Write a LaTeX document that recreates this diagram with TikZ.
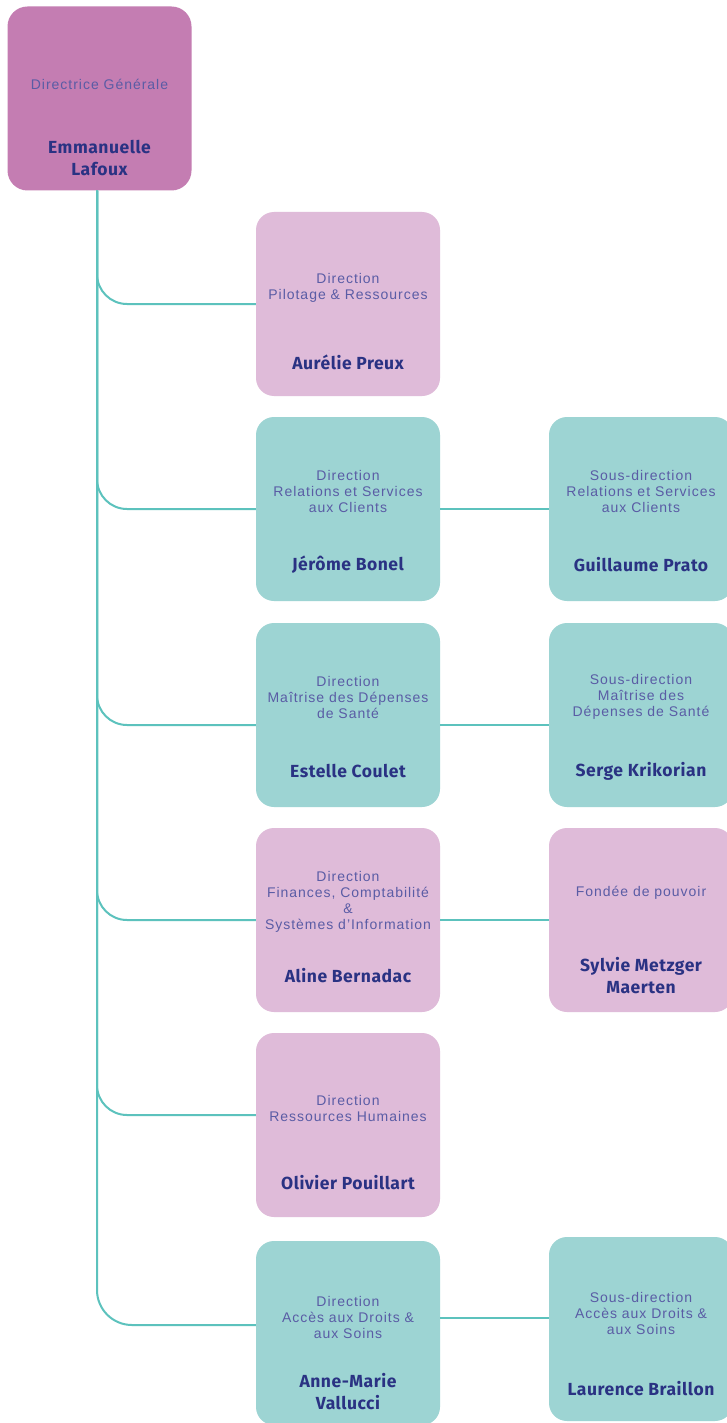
\documentclass[tikz,border=0pt]{standalone}
\usepackage{fontspec}
\setmainfont{Liberation Sans}[LetterSpace=7]
\newfontfamily\nomfont{Fira Sans}[LetterSpace=3]
\usetikzlibrary{positioning}

\definecolor{prune}{HTML}{C47DB2}
\definecolor{rosepale}{HTML}{DFBBD9}
\definecolor{menthe}{HTML}{9DD4D3}
\definecolor{trait}{HTML}{5CC2BD}
\definecolor{bleutitre}{HTML}{5A5CA5}
\definecolor{bleunom}{HTML}{2A3283}

\tikzset{
  boite/.style={rectangle, rounded corners=18pt, minimum width=184pt, minimum height=184pt, inner sep=0pt},
  titre/.style={font=\fontsize{14}{16}\selectfont, text=bleutitre, align=center},
  nom/.style={font=\nomfont\bfseries\fontsize{17.5}{22}\selectfont, text=bleunom, align=center},
  lien/.style={draw=trait, line width=2pt}
}

\begin{document}
\begin{tikzpicture}[x=1pt,y=-1pt]
  \useasboundingbox[fill=white] (0,0) rectangle (727,1423);
  % boxes
  \node[boite, fill=prune, rounded corners=20pt] (dg) at (99.5,98.5) {};
  \begin{scope}[every node/.append style={boite}]
    \node[fill=rosepale] (preux) at (348,304) {};
    \node[fill=menthe] (bonel) at (348,509) {};
    \node[fill=menthe] (prato) at (641,509) {};
    \node[fill=menthe] (coulet) at (348,715) {};
    \node[fill=menthe] (krikorian) at (641,715) {};
    \node[fill=rosepale] (bernadac) at (348,920) {};
    \node[fill=rosepale] (metzger) at (641,920) {};
    \node[fill=rosepale] (pouillart) at (348,1125) {};
    \node[fill=menthe] (vallucci) at (348,1333) {};
    \node[fill=menthe] (braillon) at (641,1329) {};
  \end{scope}
  % texts
  \node[titre] at ([yshift=14.5pt]dg.center) {Directrice Générale};
  \node[nom] at ([yshift=-59.5pt]dg.center) {Emmanuelle\\Lafoux};
  \node[titre] at ([yshift=16pt]preux.center) {Direction\\Pilotage \& Ressources};
  \node[nom] at ([yshift=-58pt]preux.center) {Aurélie Preux};
  \node[titre] at ([yshift=18pt]bonel.center) {Direction\\Relations et Services\\aux Clients};
  \node[nom] at ([yshift=-56pt]bonel.center) {Jérôme Bonel};
  \node[titre] at ([yshift=18pt]prato.center) {Sous-direction\\Relations et Services\\aux Clients};
  \node[nom] at ([yshift=-56pt]prato.center) {Guillaume Prato};
  \node[titre] at ([yshift=18pt]coulet.center) {Direction\\Maîtrise des Dépenses\\de Santé};
  \node[nom] at ([yshift=-56pt]coulet.center) {Estelle Coulet};
  \node[titre] at ([yshift=18pt]krikorian.center) {Sous-direction\\Maîtrise des\\Dépenses de Santé};
  \node[nom] at ([yshift=-56pt]krikorian.center) {Serge Krikorian};
  \node[titre] at ([yshift=18pt]bernadac.center) {Direction\\Finances, Comptabilité\\\&\\Systèmes d’Information};
  \node[nom] at ([yshift=-56pt]bernadac.center) {Aline Bernadac};
  \node[titre] at ([yshift=27pt]metzger.center) {Fondée de pouvoir};
  \node[nom] at ([yshift=-56pt]metzger.center) {Sylvie Metzger\\Maerten};
  \node[titre] at ([yshift=17pt]pouillart.center) {Direction\\Ressources Humaines};
  \node[nom] at ([yshift=-58pt]pouillart.center) {Olivier Pouillart};
  \node[titre] at ([yshift=16pt]vallucci.center) {Direction\\Accès aux Droits \&\\aux Soins};
  \node[nom] at ([yshift=-59pt]vallucci.center) {Anne-Marie\\Vallucci};
  \node[titre] at ([yshift=16pt]braillon.center) {Sous-direction\\Accès aux Droits \&\\aux Soins};
  \node[nom] at ([yshift=-60pt]braillon.center) {Laurence Braillon};
  % connectors
  \coordinate (tronc) at ([xshift=-2.5pt]dg.south);
  \begin{scope}[every path/.append style={lien}, rounded corners=30pt]
    \draw (tronc) |- (preux.west);
    \draw (tronc) |- (bonel.west);
    \draw (tronc) |- ([yshift=-10pt]coulet.west);
    \draw (tronc) |- (bernadac.west);
    \draw (tronc) |- ([yshift=10pt]pouillart.west);
    \draw[rounded corners=35pt] (tronc) |- ([yshift=8pt]vallucci.west);
  \end{scope}
  \begin{scope}[every path/.append style={lien}]
    \draw (bonel) -- (prato);
    \draw ([yshift=-10pt]coulet.east) -- ([yshift=-10pt]coulet.east -| krikorian.west);
    \draw (bernadac.east) -- (bernadac.east -| metzger.west);
    \draw ([yshift=15pt]vallucci.east) -- ([yshift=15pt]vallucci.east -| braillon.west);
  \end{scope}
\end{tikzpicture}
\end{document}
